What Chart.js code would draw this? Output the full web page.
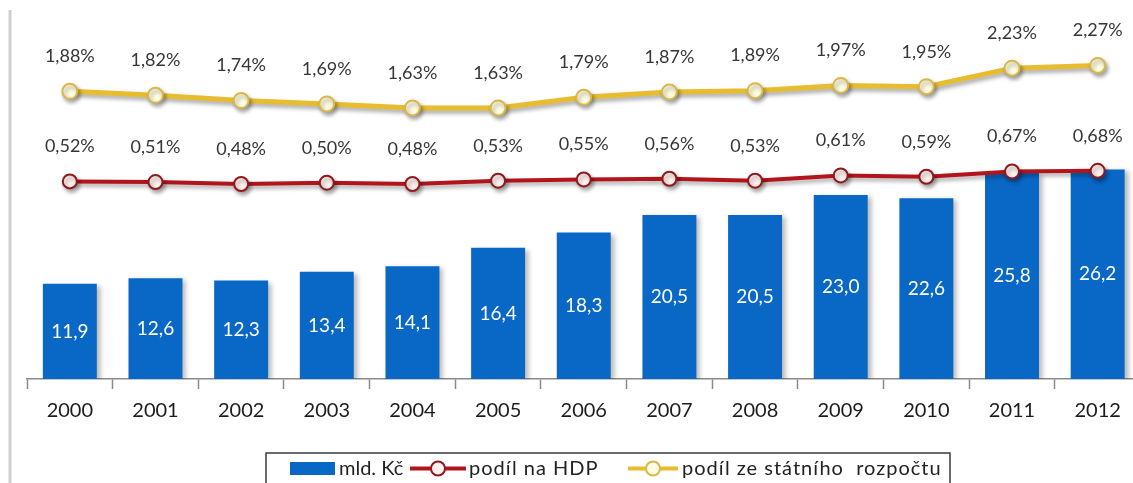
<!DOCTYPE html>
<html>
<head>
<meta charset="utf-8">
<script src="https://cdn.jsdelivr.net/npm/chart.js@4"></script>
<style>
  html, body { margin: 0; padding: 0; background: #fff; overflow: hidden; }
  #wrap { position: relative; width: 1150px; height: 483px; }
</style>
</head>
<body>
<div id="wrap"><canvas id="c" width="1150" height="483"></canvas></div>
<script>
// Years on the category axis
const years = ['2000','2001','2002','2003','2004','2005','2006','2007','2008','2009','2010','2011','2012'];
// Spending in billions CZK
const mldKc = [11.9, 12.6, 12.3, 13.4, 14.1, 16.4, 18.3, 20.5, 20.5, 23.0, 22.6, 25.8, 26.2];
// Share of GDP, %
const podilHdp = [0.52, 0.51, 0.48, 0.50, 0.48, 0.53, 0.55, 0.56, 0.53, 0.61, 0.59, 0.67, 0.68];
// Share of the state budget, %
const podilRozpocet = [1.88, 1.82, 1.74, 1.69, 1.63, 1.63, 1.79, 1.87, 1.89, 1.97, 1.95, 2.23, 2.27];

const FONT = 'Lato, "Open Sans", "DejaVu Sans", sans-serif';
const BLUE = '#0968C6';
const RED = '#B3141C';
const GOLD = '#E7BD2F';

const fmt = (v, d) => v.toFixed(d).replace('.', ',');

// Soft drop shadow under bars and lines
const shadowPlugin = {
  id: 'shadow',
  beforeDatasetDraw(chart, args) {
    const ctx = chart.ctx;
    ctx.save();
    if (args.meta.type === 'bar') {
      ctx.shadowColor = 'rgba(0,0,0,0.28)';
      ctx.shadowOffsetX = 4; ctx.shadowOffsetY = 2; ctx.shadowBlur = 5;
    } else {
      ctx.shadowColor = 'rgba(0,0,0,0.35)';
      ctx.shadowOffsetX = 2; ctx.shadowOffsetY = 3; ctx.shadowBlur = 4;
    }
  },
  afterDatasetDraw(chart) { chart.ctx.restore(); }
};

// Value labels: centred inside the bars, above the line points
const labelPlugin = {
  id: 'valueLabels',
  afterDatasetsDraw(chart) {
    const ctx = chart.ctx;
    ctx.save();
    ctx.textAlign = 'center';
    ctx.textBaseline = 'middle';
    chart.data.datasets.forEach((ds, i) => {
      const meta = chart.getDatasetMeta(i);
      meta.data.forEach((el, j) => {
        const v = ds.data[j];
        if (meta.type === 'bar') {
          ctx.font = '19px ' + FONT;
          ctx.fillStyle = '#ffffff';
          ctx.fillText(fmt(v, 1), el.x, (el.y + el.base) / 2);
        } else {
          ctx.font = '18px ' + FONT;
          ctx.fillStyle = '#363636';
          ctx.fillText(fmt(v, 2) + '%', el.x, el.y - 35);
        }
      });
    });
    ctx.restore();
  }
};

// Frame line on the left and the boxed legend at the bottom
const framePlugin = {
  id: 'frame',
  beforeDraw(chart) {
    const ctx = chart.ctx;
    ctx.save();
    ctx.strokeStyle = '#cfcfcf';
    ctx.lineWidth = 3;
    ctx.beginPath();
    ctx.moveTo(10, 10);
    ctx.lineTo(10, 483);
    ctx.stroke();
    ctx.restore();
  },
  afterDraw(chart) {
    const ctx = chart.ctx;
    const ds = chart.data.datasets;
    ctx.save();
    // box
    ctx.fillStyle = '#ffffff';
    ctx.fillRect(266, 453, 684, 40);
    ctx.strokeStyle = '#3a3a3a';
    ctx.lineWidth = 1.5;
    ctx.strokeRect(266, 453, 684, 40);

    ctx.font = '20px ' + FONT;
    ctx.textBaseline = 'middle';
    ctx.textAlign = 'left';
    const cy = 468.5;

    // bar swatch
    ctx.fillStyle = ds[0].backgroundColor;
    ctx.fillRect(290, 462, 45, 13);
    ctx.fillStyle = '#222';
    ctx.letterSpacing = '0px';
    ctx.fillText(ds[0].label, 339, cy);

    // line swatches
    const lineItem = (d, x, w, tx) => {
      ctx.strokeStyle = d.borderColor;
      ctx.lineWidth = 4;
      ctx.beginPath();
      ctx.moveTo(x, cy);
      ctx.lineTo(x + w, cy);
      ctx.stroke();
      ctx.beginPath();
      ctx.arc(x + w / 2, cy, 7, 0, Math.PI * 2);
      ctx.fillStyle = d.pointBackgroundColor;
      ctx.fill();
      ctx.lineWidth = 2;
      ctx.strokeStyle = d.pointBorderColor;
      ctx.stroke();
      ctx.fillStyle = '#222';
      ctx.letterSpacing = '1px';
      ctx.fillText(d.label, tx, cy);
    };
    lineItem(ds[1], 410, 56, 469);
    lineItem(ds[2], 628, 50, 682);
    ctx.restore();
  }
};

const chart = new Chart(document.getElementById('c'), {
  type: 'bar',
  data: {
    labels: years,
    datasets: [
      {
        type: 'bar',
        label: 'mld. Kč',
        data: mldKc,
        backgroundColor: BLUE,
        yAxisID: 'y',
        categoryPercentage: 1,
        barPercentage: 0.63,
        order: 3
      },
      {
        type: 'line',
        label: 'podíl na HDP',
        data: podilHdp,
        yAxisID: 'y2',
        borderColor: RED,
        borderWidth: 4,
        tension: 0,
        pointRadius: 7,
        pointHoverRadius: 7,
        pointBorderWidth: 2,
        pointBackgroundColor: '#FFF1EE',
        pointBorderColor: '#8E1A1E',
        order: 2
      },
      {
        type: 'line',
        label: 'podíl ze státního  rozpočtu',
        data: podilRozpocet,
        yAxisID: 'y2',
        borderColor: GOLD,
        borderWidth: 5,
        tension: 0,
        pointRadius: 7.5,
        pointHoverRadius: 7.5,
        pointBorderWidth: 2,
        pointBackgroundColor: '#FFFCE2',
        pointBorderColor: '#D9B74A',
        order: 1
      }
    ]
  },
  options: {
    responsive: false,
    animation: false,
    events: [],
    layout: { padding: { left: 27, right: 5, top: 10, bottom: 60 } },
    plugins: { legend: { display: false }, tooltip: { enabled: false } },
    scales: {
      x: {
        offset: true,
        grid: {
          offset: true,
          drawOnChartArea: false,
          drawTicks: true,
          tickLength: 10,
          tickColor: '#8a8a8a',
          tickWidth: 1.5
        },
        border: { display: true, color: '#8a8a8a', width: 1.5 },
        ticks: {
          color: '#1c1c1c',
          font: { family: FONT, size: 20 },
          padding: 10,
          maxRotation: 0,
          autoSkip: false
        }
      },
      y: { display: false, min: 0, max: 45 },
      y2: { display: false, min: -2.5, max: 3 }
    }
  },
  plugins: [shadowPlugin, labelPlugin, framePlugin]
});

// Put the baseline at y = 379 and fit both value axes to the plot height
const baseY = 379;
chart.options.layout.padding.bottom += chart.chartArea.bottom - baseY;
chart.update();
const areaTop = chart.chartArea.top, areaBottom = chart.chartArea.bottom;
chart.options.scales.y.max = (areaBottom - areaTop) / 8.0;
chart.options.scales.y2.min = (215.8 - areaBottom) / 66.2;
chart.options.scales.y2.max = (215.8 - areaTop) / 66.2;
chart.update();
</script>
</body>
</html>
